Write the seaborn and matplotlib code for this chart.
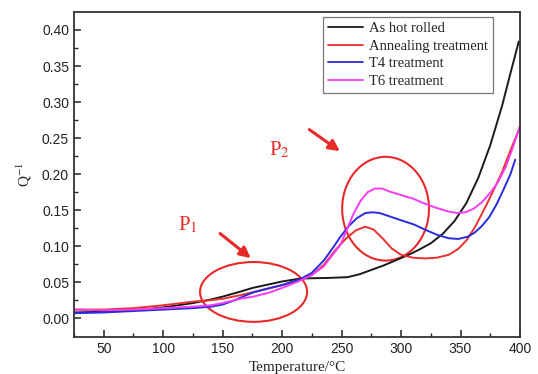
import numpy as np
import pandas as pd
import seaborn as sns
import matplotlib
matplotlib.use('Agg')
import matplotlib.pyplot as plt
from matplotlib.patches import Ellipse

# --- data ---
t_rolled = [25, 50, 75, 100, 125, 140, 150, 165, 175, 200, 215, 225, 240, 255, 265, 275,
            285, 295, 305, 315, 325, 335, 345, 355, 365, 375, 385, 392, 399]
q_rolled = [0.008, 0.009, 0.011, 0.015, 0.021, 0.026, 0.030, 0.037, 0.042, 0.051, 0.055, 0.0555,
            0.056, 0.057, 0.061, 0.067, 0.073, 0.080, 0.087, 0.095, 0.104, 0.117, 0.135, 0.160,
            0.195, 0.240, 0.295, 0.340, 0.384]

t_anneal = [25, 50, 75, 100, 125, 140, 150, 165, 175, 190, 200, 215, 225, 235, 245, 254, 262,
            270, 277, 285, 292, 300, 310, 320, 330, 340, 348, 355, 362, 368, 375, 385, 392, 400]
q_anneal = [0.012, 0.012, 0.014, 0.018, 0.023, 0.025, 0.027, 0.032, 0.036, 0.042, 0.046, 0.053,
            0.060, 0.074, 0.095, 0.111, 0.122, 0.127, 0.123, 0.110, 0.097, 0.088, 0.084, 0.083,
            0.084, 0.088, 0.096, 0.108, 0.126, 0.145, 0.168, 0.203, 0.233, 0.265]

t_t4 = [25, 50, 75, 100, 125, 140, 150, 160, 170, 176, 190, 200, 215, 225, 235, 242, 249, 256,
        263, 270, 276, 282, 291, 300, 311, 320, 330, 340, 348, 356, 362, 368, 374, 380, 386, 392, 396]
q_t4 = [0.007, 0.008, 0.010, 0.012, 0.014, 0.016, 0.019, 0.025, 0.032, 0.036, 0.042, 0.046,
        0.054, 0.063, 0.080, 0.096, 0.113, 0.128, 0.139, 0.146, 0.147, 0.146, 0.141, 0.136,
        0.130, 0.123, 0.116, 0.111, 0.110, 0.113, 0.119, 0.128, 0.140, 0.157, 0.178, 0.200, 0.220]

t_t6 = [25, 50, 75, 100, 125, 140, 150, 165, 176, 190, 200, 215, 225, 235, 242, 249, 255, 260,
        266, 272, 278, 284, 290, 300, 310, 320, 330, 340, 347, 354, 361, 368, 375, 381, 388, 394, 400]
q_t6 = [0.012, 0.011, 0.012, 0.014, 0.016, 0.018, 0.021, 0.027, 0.030, 0.036, 0.042, 0.052,
        0.060, 0.072, 0.087, 0.102, 0.125, 0.145, 0.163, 0.175, 0.180, 0.180, 0.176, 0.171,
        0.166, 0.159, 0.153, 0.148, 0.146, 0.147, 0.152, 0.161, 0.174, 0.1875, 0.210, 0.237, 0.267]

labels = ['As hot rolled', 'Annealing treatment', 'T4 treatment', 'T6 treatment']
colors = ['#1a1a1a', '#e8302e', '#2b2bdc', '#f23cf2']
red = '#e62a2a'

df = pd.concat([
    pd.DataFrame({'T': t_rolled, 'Q': q_rolled, 'sample': labels[0]}),
    pd.DataFrame({'T': t_anneal, 'Q': q_anneal, 'sample': labels[1]}),
    pd.DataFrame({'T': t_t4, 'Q': q_t4, 'sample': labels[2]}),
    pd.DataFrame({'T': t_t6, 'Q': q_t6, 'sample': labels[3]}),
], ignore_index=True)

sns.set_style('ticks')
plt.rcParams['font.family'] = ['Liberation Sans', 'DejaVu Sans']
plt.rcParams['mathtext.fontset'] = 'stix'
plt.rcParams['xtick.direction'] = 'in'
plt.rcParams['ytick.direction'] = 'in'

fig = plt.figure(figsize=(5.38, 3.74), dpi=100)
ax = fig.add_axes([0.1375, 0.099, 0.829, 0.869])

sns.lineplot(data=df, x='T', y='Q', hue='sample', palette=dict(zip(labels, colors)),
             estimator=None, sort=False, linewidth=1.4, ax=ax, legend=False)

ax.set_xlim(25, 400)
ax.set_ylim(-0.026, 0.425)
ax.set_xticks(np.arange(50, 401, 50))
ax.set_xticks(np.arange(25, 401, 25), minor=True)
ax.set_yticks(np.arange(0, 0.41, 0.05))
ax.set_yticks(np.arange(0, 0.41, 0.025), minor=True)
ax.yaxis.set_major_formatter(matplotlib.ticker.FormatStrFormatter('%.2f'))
ax.tick_params(which='major', length=5, width=1.1, labelsize=10, colors='#222222')
ax.tick_params(which='minor', length=3, width=1.0)
for s in ax.spines.values():
    s.set_linewidth(1.3)
    s.set_color('#333333')

ax.set_xlabel('Temperature/°C', family='Liberation Serif', fontsize=11, labelpad=4)
ax.set_ylabel('Q$^{-1}$', family='Liberation Serif', fontsize=11, labelpad=6)

# legend
handles = [plt.Line2D([], [], color=c, lw=1.3) for c in colors]
leg = ax.legend(handles, labels, loc='upper right', bbox_to_anchor=(0.94, 0.985),
                prop={'family': 'Liberation Serif', 'size': 10.5}, frameon=True,
                fancybox=False, edgecolor='#555555', handlelength=2.4, handletextpad=0.4,
                labelspacing=0.3, borderpad=0.35, borderaxespad=0)
leg.get_frame().set_linewidth(0.9)

# peak markers
ax.add_patch(Ellipse((176, 0.0365), 90, 0.083, fill=False, ec=red, lw=1.5))
ax.add_patch(Ellipse((287, 0.152), 73, 0.144, fill=False, ec=red, lw=1.5))
ax.annotate('', xy=(175.5, 0.081), xytext=(146, 0.120),
            arrowprops=dict(arrowstyle='-|>', color=red, lw=2.2, mutation_scale=16))
ax.annotate('', xy=(250.5, 0.2296), xytext=(221, 0.264),
            arrowprops=dict(arrowstyle='-|>', color=red, lw=2.2, mutation_scale=16))
ax.text(121, 0.129, 'P$_1$', color=red, fontsize=15, family='Liberation Serif',
        ha='center', va='center')
ax.text(198, 0.234, 'P$_2$', color=red, fontsize=15, family='Liberation Serif',
        ha='center', va='center')

fig.savefig('out.png', dpi=100)
